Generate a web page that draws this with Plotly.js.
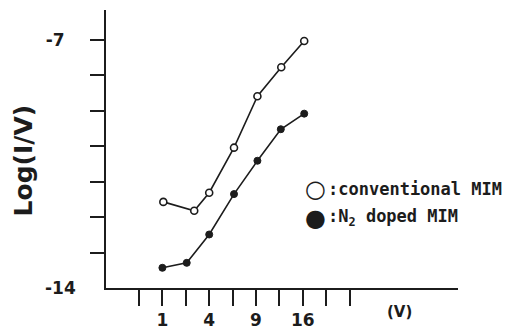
<!DOCTYPE html>
<html>
<head>
<meta charset="utf-8">
<script src="https://cdn.plot.ly/plotly-3.0.1.min.js"></script>
<style>
html,body{margin:0;padding:0;background:#fff;}
#chart{width:523px;height:329px;}
</style>
</head>
<body>
<div id="chart"></div>
<script>
// x values are sqrt(V) (the axis is linear in sqrt of voltage)
const sqrtV_conventional = [1.02, 1.68, 2.0, 2.53, 3.03, 3.54, 4.03];
const logIV_conventional = [-11.57, -11.82, -11.31, -10.04, -8.59, -7.77, -7.03];
const sqrtV_doped = [1.0, 1.52, 2.0, 2.53, 3.03, 3.53, 4.03];
const logIV_doped = [-13.43, -13.29, -12.49, -11.35, -10.41, -9.52, -9.08];

const xTickVals = [1, 2, 3, 4];
const xTickText = ["1", "4", "9", "16"];
const xMinorTickVals = [0.5, 1.5, 2.5, 3.5, 4.5, 5];
const yTickVals = [-7];
const yTickText = ["-7"];
const yMinorTickVals = [-8, -9, -10, -11, -12, -13];

const ink = "#1c1c1c";

const traces = [
  {
    x: sqrtV_conventional, y: logIV_conventional,
    mode: "lines+markers", type: "scatter", showlegend: false,
    line: {color: ink, width: 1.6},
    marker: {symbol: "circle", size: 7, color: "#fff", line: {color: ink, width: 1.6}}
  },
  {
    x: sqrtV_doped, y: logIV_doped,
    mode: "lines+markers", type: "scatter", showlegend: false,
    line: {color: ink, width: 1.6},
    marker: {symbol: "circle", size: 7, color: ink, line: {color: ink, width: 1}}
  }
];

const mono = "DejaVu Sans Mono";
const sans = "DejaVu Sans";

const layout = {
  width: 523, height: 329,
  margin: {l: 106, r: 65, t: 10, b: 41.3},
  paper_bgcolor: "#fff", plot_bgcolor: "#fff",
  font: {family: sans, color: ink},
  xaxis: {
    range: [-0.205, 7.316],
    showgrid: false, zeroline: false,
    showline: true, linecolor: ink, linewidth: 2,
    tickmode: "array", tickvals: xTickVals, ticktext: xTickText,
    ticks: "outside", ticklen: 16, tickwidth: 2, tickcolor: ink,
    minor: {tickmode: "array", tickvals: xMinorTickVals, ticks: "outside",
            ticklen: 16, tickwidth: 2, tickcolor: ink, showgrid: false},
    tickfont: {family: sans, size: 17, weight: "bold", color: ink}
  },
  yaxis: {
    range: [-14, -6.155],
    showgrid: false, zeroline: false,
    showline: true, linecolor: ink, linewidth: 2,
    tickmode: "array", tickvals: yTickVals, ticktext: yTickText,
    ticks: "outside", ticklen: 14, tickwidth: 2, tickcolor: ink,
    minor: {tickmode: "array", tickvals: yMinorTickVals, ticks: "outside",
            ticklen: 14, tickwidth: 2, tickcolor: ink, showgrid: false},
    ticklabelstandoff: 22,
    tickfont: {family: sans, size: 17, weight: "bold", color: ink}
  },
  annotations: [
    {text: "Log(I/V)", xref: "paper", yref: "paper", x: -0.235, y: 0.46,
     textangle: -90, showarrow: false, xanchor: "center", yanchor: "middle",
     font: {family: sans, size: 25, weight: "bold", color: ink}},
    {text: "-14", xref: "paper", yref: "y", x: -0.0795, y: -14, xanchor: "right",
     yanchor: "middle", showarrow: false,
     font: {family: sans, size: 17, weight: "bold", color: ink}},
    {text: "(V)", xref: "paper", yref: "paper", x: 0.835, y: -0.088,
     xanchor: "center", yanchor: "middle", showarrow: false,
     font: {family: sans, size: 15, weight: "bold", color: ink}},
    {text: "○", xref: "paper", yref: "paper", x: 0.594, y: 0.357,
     xanchor: "center", yanchor: "middle", showarrow: false,
     font: {family: sans, size: 24, weight: "bold", color: ink}},
    {text: "●", xref: "paper", yref: "paper", x: 0.594, y: 0.253,
     xanchor: "center", yanchor: "middle", showarrow: false,
     font: {family: sans, size: 24, color: ink}},
    {text: ":conventional MIM", xref: "paper", yref: "paper", x: 0.625, y: 0.357,
     xanchor: "left", yanchor: "middle", showarrow: false,
     font: {family: mono, size: 17, weight: "bold", color: ink}},
    {text: ":N<sub>2</sub> doped MIM", xref: "paper", yref: "paper", x: 0.625, y: 0.253,
     xanchor: "left", yanchor: "middle", showarrow: false,
     font: {family: mono, size: 17, weight: "bold", color: ink}}
  ]
};

Plotly.newPlot("chart", traces, layout, {displayModeBar: false, staticPlot: true});
</script>
</body>
</html>
